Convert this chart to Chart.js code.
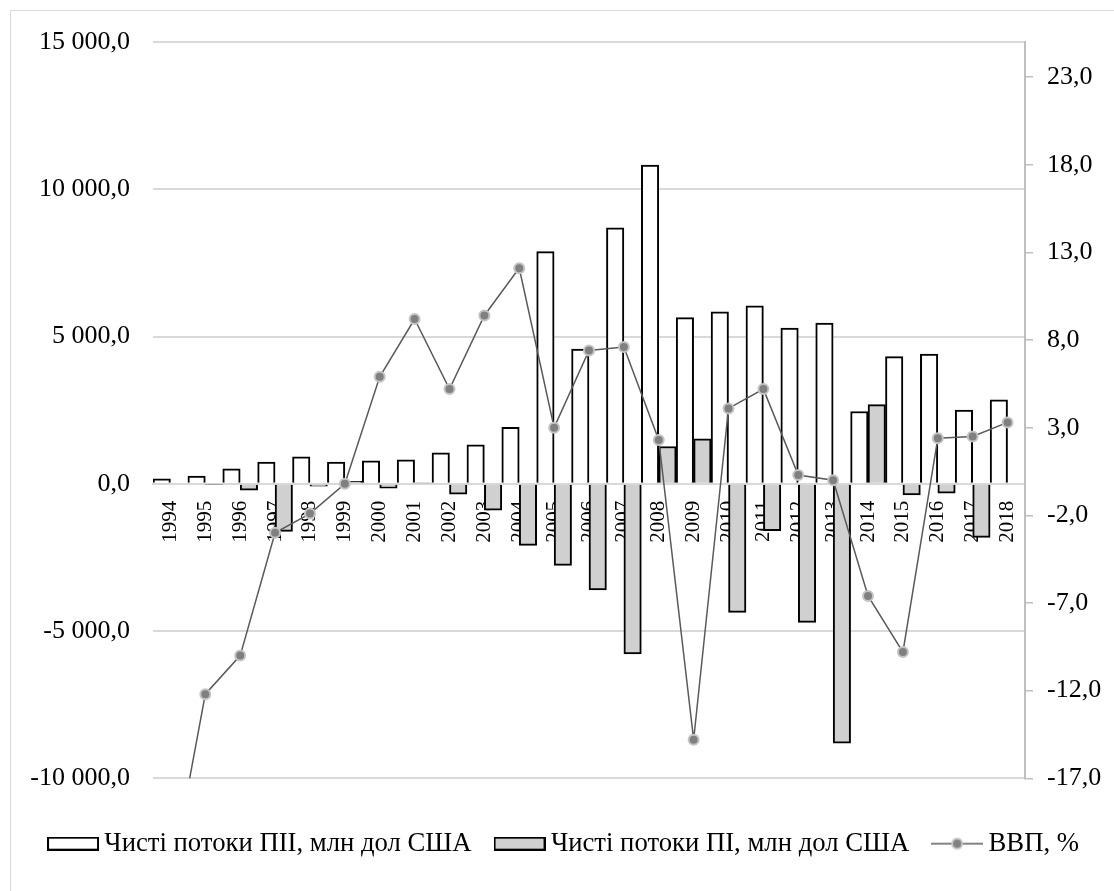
<!DOCTYPE html>
<html lang="uk">
<head>
<meta charset="utf-8">
<title>Чисті потоки ПІІ та ПІ, ВВП</title>
<script src="https://cdn.jsdelivr.net/npm/chart.js@4.4.1/dist/chart.umd.min.js"></script>
<style>
  html, body { margin: 0; padding: 0; background: #fff; overflow: hidden; }
  .chart-frame {
    position: absolute;
    left: 10px;
    top: 10px;
    width: 1112px;
    height: 880px;
    border: 1px solid #d9d9d9;
    background: #fff;
  }
  canvas { display: block; }
</style>
</head>
<body>
<div class="chart-frame">
  <canvas id="flowsChart" width="1112" height="880"></canvas>
</div>
<script>
const years = [
  "1994", "1995", "1996", "1997", "1998", "1999", "2000", "2001", "2002",
  "2003", "2004", "2005", "2006", "2007", "2008", "2009", "2010", "2011",
  "2012", "2013", "2014", "2015", "2016", "2017", "2018",
];

// Чисті потоки ПІІ, млн дол США
const fdiFlows = [
  170, 260, 510, 735, 915, 735, 780, 815, 1050, 1325, 1920, 7880, 4570,
  8690, 10820, 5640, 5835, 6040, 5290, 5455, 2455, 4320, 4400, 2500, 2850,
];

// Чисті потоки ПІ, млн дол США
const portfolioFlows = [
  0, -25, -215, -1615, -80, 80, -150, 30, -350, -895, -2090, -2770, -3600,
  -5780, 1265, 1525, -4365, -1595, -4705, -8810, 2690, -375, -315, -1820, 0,
];

// ВВП, %
const gdpGrowth = [
  -22.9, -12.2, -10.0, -3.0, -1.9, -0.2, 5.9, 9.2, 5.2, 9.4, 12.1, 3.0, 7.4,
  7.6, 2.3, -14.8, 4.1, 5.2, 0.3, 0.0, -6.6, -9.8, 2.4, 2.5, 3.3,
];

const seriesLabels = [
  "Чисті потоки ПІІ, млн дол США",
  "Чисті потоки ПІ, млн дол США",
  "ВВП, %",
];

const leftTicks = [-10000, -5000, 0, 5000, 10000, 15000];
const rightTicks = [-17, -12, -7, -2, 3, 8, 13, 18, 23];

const FONT = "'Liberation Serif', 'Times New Roman', serif";

// "15 000,0" style: space for thousands, comma for decimals
function formatNumber(value) {
  const parts = Math.abs(value).toFixed(1).split(".");
  const grouped = parts[0].replace(/\B(?=(\d{3})+(?!\d))/g, " ");
  return (value < 0 ? "-" : "") + grouped + "," + parts[1];
}

// Legend swatches drawn on small canvases (Excel-like wide boxes and line+marker)
function makeBoxSwatch(fill) {
  const c = document.createElement("canvas");
  c.width = 52;
  c.height = 14;
  const ctx = c.getContext("2d");
  ctx.fillStyle = fill;
  ctx.fillRect(1, 1, 50, 12);
  ctx.strokeStyle = "#000";
  ctx.lineWidth = 2;
  ctx.strokeRect(1, 1, 50, 12);
  return c;
}

function makeLineSwatch() {
  const c = document.createElement("canvas");
  c.width = 52;
  c.height = 14;
  const ctx = c.getContext("2d");
  ctx.strokeStyle = "#595959";
  ctx.lineWidth = 1.5;
  ctx.beginPath();
  ctx.moveTo(0, 7);
  ctx.lineTo(52, 7);
  ctx.stroke();
  ctx.beginPath();
  ctx.arc(26, 7, 5, 0, Math.PI * 2);
  ctx.fillStyle = "#808080";
  ctx.fill();
  ctx.strokeStyle = "#c4c4c4";
  ctx.lineWidth = 2;
  ctx.stroke();
  return c;
}

const swatches = [
  makeBoxSwatch("#ffffff"),
  makeBoxSwatch("#d0d0d0"),
  makeLineSwatch(),
];

const ctx = document.getElementById("flowsChart").getContext("2d");

new Chart(ctx, {
  type: "bar",
  data: {
    labels: years,
    datasets: [
      {
        label: seriesLabels[0],
        data: fdiFlows,
        backgroundColor: "#ffffff",
        borderColor: "#000000",
        borderWidth: 2,
        yAxisID: "y",
        categoryPercentage: 1,
        barPercentage: 1,
      },
      {
        label: seriesLabels[1],
        data: portfolioFlows,
        backgroundColor: "#d0d0d0",
        borderColor: "#000000",
        borderWidth: 2,
        yAxisID: "y",
        categoryPercentage: 1,
        barPercentage: 1,
      },
      {
        type: "line",
        label: seriesLabels[2],
        data: gdpGrowth,
        yAxisID: "y1",
        order: -1,
        borderColor: "#595959",
        borderWidth: 1.5,
        pointRadius: 5,
        pointBackgroundColor: "#808080",
        pointBorderColor: "#c4c4c4",
        pointBorderWidth: 2,
        tension: 0,
        fill: false,
      },
    ],
  },
  options: {
    responsive: false,
    animation: false,
    devicePixelRatio: 1,
    layout: {
      padding: { left: 0, right: 0, top: 31, bottom: 24 },
    },
    plugins: {
      tooltip: { enabled: false },
      legend: {
        position: "bottom",
        // empty title only used as a spacer between the plot and the legend row
        title: {
          display: true,
          text: "",
          font: { size: 10 },
          padding: { top: 10, bottom: 0 },
        },
        labels: {
          usePointStyle: true,
          pointStyleWidth: 36,
          padding: 30,
          color: "#000",
          font: { family: FONT, size: 26.7 },
          sort: (a, b) => a.datasetIndex - b.datasetIndex,
          generateLabels: (chart) => {
            const items = Chart.defaults.plugins.legend.labels.generateLabels(chart);
            items.forEach((item) => {
              item.pointStyle = swatches[item.datasetIndex];
            });
            return items;
          },
        },
      },
    },
    scales: {
      x: {
        position: { y: 0 },
        offset: true,
        z: 1,
        grid: { display: false, drawTicks: false },
        border: { display: true, color: "#d9d9d9", width: 2 },
        ticks: {
          autoSkip: false,
          minRotation: 90,
          maxRotation: 90,
          padding: 17,
          color: "#000",
          font: { family: FONT, size: 21 },
        },
      },
      y: {
        position: "left",
        min: -10000,
        max: 15000,
        afterFit: (scale) => {
          scale.width = 142;
        },
        afterBuildTicks: (scale) => {
          scale.ticks = leftTicks.map((v) => ({ value: v }));
        },
        // invisible tick marks keep the label gap without adding top padding
        grid: {
          color: "#d9d9d9",
          lineWidth: 2,
          drawTicks: true,
          tickLength: 23,
          tickColor: "rgba(0,0,0,0)",
        },
        border: { display: false },
        ticks: {
          padding: 0,
          color: "#000",
          font: { family: FONT, size: 26 },
          callback: (value) => formatNumber(value),
        },
      },
      y1: {
        position: "right",
        min: -17,
        max: 25,
        afterFit: (scale) => {
          scale.width = 98;
        },
        afterBuildTicks: (scale) => {
          scale.ticks = rightTicks.map((v) => ({ value: v }));
        },
        grid: {
          drawOnChartArea: false,
          color: "#bfbfbf",
          lineWidth: 1.5,
          tickLength: 8,
        },
        border: { display: true, color: "#bfbfbf", width: 2 },
        ticks: {
          padding: 14,
          color: "#000",
          font: { family: FONT, size: 26 },
          callback: (value) => formatNumber(value),
        },
      },
    },
  },
});
</script>
</body>
</html>
